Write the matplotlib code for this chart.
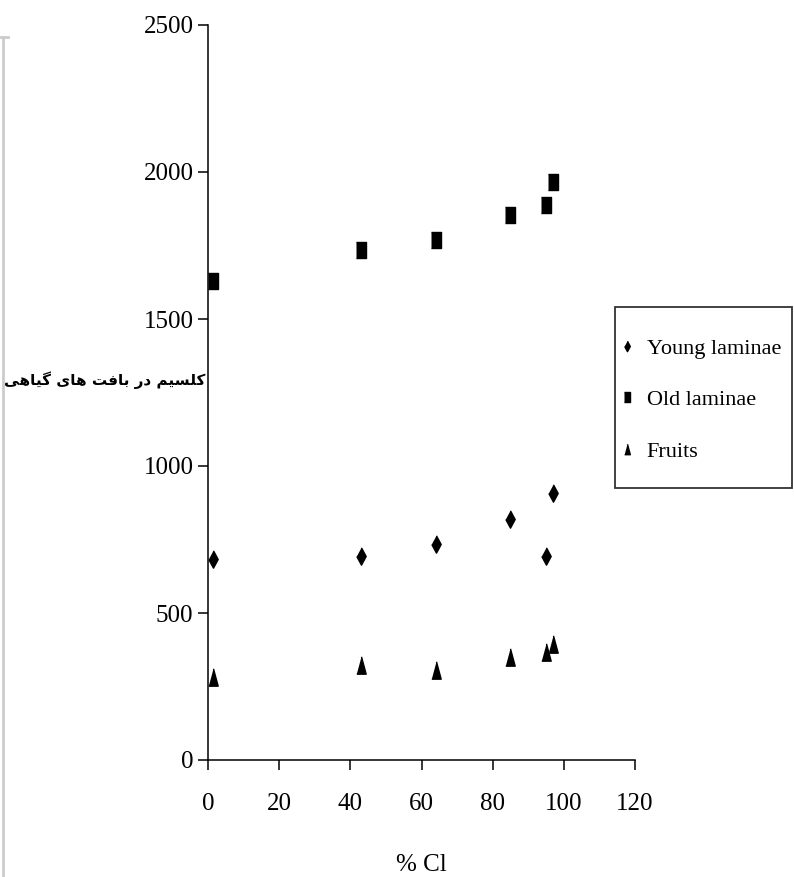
import matplotlib
matplotlib.use("Agg")
import matplotlib.pyplot as plt
from matplotlib.lines import Line2D
from matplotlib.patches import Rectangle

# data
cl = [1.5, 43, 64, 85, 95, 97]
young = [685, 693, 736, 821, 693, 908]
old = [1630, 1735, 1769, 1855, 1888, 1967]
fruits = [281, 323, 305, 350, 366, 394]
xticks = [0, 20, 40, 60, 80, 100, 120]
yticks = [0, 500, 1000, 1500, 2000, 2500]
labels = ["Young laminae", "Old laminae", "Fruits"]
ylabel_fa = "کلسیم در بافت های گیاهی"
xlabel = "% Cl"

# matplotlib has no arabic shaping: map letters to presentation forms
# (isolated, final, initial, medial), then reverse for left-to-right drawing
forms = {
    "ک": ("\ufb8e", "\ufb8f", "\ufb90", "\ufb91"),
    "گ": ("\ufb92", "\ufb93", "\ufb94", "\ufb95"),
    "ل": ("\ufedd", "\ufede", "\ufedf", "\ufee0"),
    "س": ("\ufeb1", "\ufeb2", "\ufeb3", "\ufeb4"),
    "ی": ("\ufbfc", "\ufbfd", "\ufbfe", "\ufbff"),
    "م": ("\ufee1", "\ufee2", "\ufee3", "\ufee4"),
    "ب": ("\ufe8f", "\ufe90", "\ufe91", "\ufe92"),
    "ف": ("\ufed1", "\ufed2", "\ufed3", "\ufed4"),
    "ت": ("\ufe95", "\ufe96", "\ufe97", "\ufe98"),
    "ه": ("\ufee9", "\ufeea", "\ufeeb", "\ufeec"),
    "ا": ("\ufe8d", "\ufe8e", None, None),
    "د": ("\ufea9", "\ufeaa", None, None),
    "ر": ("\ufead", "\ufeae", None, None),
}


def shape(text):
    out = []
    for word in text.split(" "):
        s = ""
        for i, ch in enumerate(word):
            f = forms[ch]
            prev = word[i - 1] if i > 0 else None
            nxt = word[i + 1] if i + 1 < len(word) else None
            join_prev = prev is not None and forms[prev][2] is not None
            join_next = nxt is not None and f[2] is not None
            if join_prev and join_next:
                s += f[3]
            elif join_prev:
                s += f[1]
            elif join_next:
                s += f[2]
            else:
                s += f[0]
        out.append(s)
    return " ".join(out)[::-1]


plt.rcParams["font.family"] = ["Liberation Serif", "DejaVu Sans"]

fig = plt.figure(figsize=(7.94, 8.77), dpi=100)
ax = fig.add_axes([208 / 794, 117 / 877, 427 / 794, 735 / 877])

sq = [(-0.3, -0.5), (0.3, -0.5), (0.3, 0.5), (-0.3, 0.5)]
dia = [(0, 0.5), (0.27, 0), (0, -0.5), (-0.27, 0)]
tri = [(-0.27, -0.5), (0.27, -0.5), (0, 0.5)]

ax.plot(cl, young, linestyle="none", marker=dia, markersize=12.5, color="black", label=labels[0])
ax.plot(cl, old, linestyle="none", marker=sq, markersize=11, color="black", label=labels[1])
ax.plot(cl, fruits, linestyle="none", marker=tri, markersize=12.5, color="black", label=labels[2])

ax.set_xlim(0, 120)
ax.set_ylim(0, 2500)
ax.set_xticks(xticks)
ax.set_yticks(yticks)
ax.tick_params(labelsize=18, length=7, width=1.1, direction="out")
ax.tick_params(axis="x", pad=17)
ax.spines["top"].set_visible(False)
ax.spines["right"].set_visible(False)
for s in ["left", "bottom"]:
    ax.spines[s].set_linewidth(1.1)
ax.set_xlabel(xlabel, fontsize=18, labelpad=28)

fig.text(105 / 794, 1 - 380 / 877, shape(ylabel_fa), family="DejaVu Sans", weight="bold",
         fontsize=11, ha="center", va="center")

# legend box
fig.patches.append(Rectangle((615 / 794, 1 - 488 / 877), 177 / 794, 181 / 877,
                             transform=fig.transFigure, fill=False, edgecolor="#333333",
                             linewidth=1.3))
fig.legend(loc="center left", bbox_to_anchor=(620 / 794, 1 - 400 / 877), frameon=False,
           fontsize=16, markerscale=0.6, handlelength=0.6, handletextpad=0.6,
           labelspacing=1.4, borderpad=0, borderaxespad=0)

# faint border on the left
fig.add_artist(Line2D([3 / 794, 3 / 794], [0, 1 - 37 / 877], transform=fig.transFigure,
                      color="#cccccc", linewidth=2))
fig.add_artist(Line2D([0, 8 / 794], [1 - 37 / 877, 1 - 37 / 877], transform=fig.transFigure,
                      color="#cccccc", linewidth=2))

fig.savefig("out.png", dpi=100)
